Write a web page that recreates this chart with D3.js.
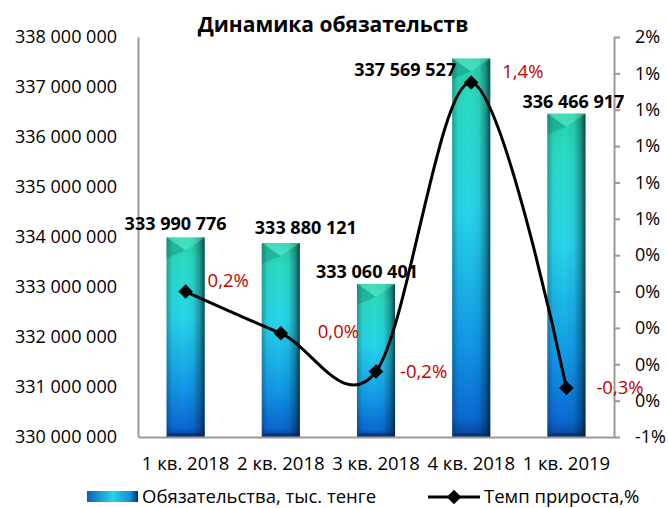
<!DOCTYPE html>
<html>
<head>
<meta charset="utf-8">
<script src="https://cdn.jsdelivr.net/npm/d3@7"></script>
<style>
  html, body { margin: 0; padding: 0; background: #fff; }
  svg { display: block; font-family: "Open Sans", sans-serif; }
</style>
</head>
<body>
<div id="chart"></div>
<script>
const categories = ["1 кв. 2018", "2 кв. 2018", "3 кв. 2018", "4 кв. 2018", "1 кв. 2019"];
const liabilities = [333990776, 333880121, 333060401, 337569527, 336466917];
const growth = [0.2, -0.03, -0.24, 1.35, -0.33];
const leftTicks = [330000000, 331000000, 332000000, 333000000, 334000000, 335000000, 336000000, 337000000, 338000000];
const rightTicks = [-0.6, -0.4, -0.2, 0, 0.2, 0.4, 0.6, 0.8, 1.0, 1.2, 1.4, 1.6];

// label nudges (hand-placed in the original)
const barLabelShift = [[-10, -7], [25, -9], [-9, -6], [-66, 17], [7, -6]];
const pctLabelShift = [[22, -5], [37, 5], [24, 6], [31, -4], [30, 6]];

const W = 668, H = 508;
const m = { left: 138, right: 614, top: 37, bottom: 437 };

const ru = d3.formatLocale({ decimal: ",", thousands: " ", grouping: [3], currency: ["", ""], minus: "-" });
const fmtNum = ru.format(",d");
const fmtPct = v => ru.format(".1f")(v) + "%";
const fmtTick = v => ru.format(".0f")(v) + "%";

const svg = d3.select("#chart").append("svg").attr("width", W).attr("height", H);
const defs = svg.append("defs");

const g1 = defs.append("linearGradient").attr("id", "barGrad")
  .attr("x1", 0).attr("y1", 0).attr("x2", 0).attr("y2", 1);
[[0, "#26cfa8"], [0.12, "#2adcc4"], [0.4, "#27d6ea"], [0.75, "#1299e8"], [0.95, "#0a6ad4"], [1, "#08449a"]]
  .forEach(([o, c]) => g1.append("stop").attr("offset", o).attr("stop-color", c));

const g2 = defs.append("linearGradient").attr("id", "shadeGrad")
  .attr("x1", 0).attr("y1", 0).attr("x2", 1).attr("y2", 0);
[[0, 0.3], [0.15, 0.04], [0.45, 0], [0.7, 0.06], [0.88, 0.35], [1, 0.72]]
  .forEach(([o, a]) => g2.append("stop").attr("offset", o).attr("stop-color", "#001018").attr("stop-opacity", a));

const g3 = defs.append("linearGradient").attr("id", "legGrad")
  .attr("x1", 0).attr("y1", 0).attr("x2", 1).attr("y2", 0);
[[0, "#0b5fb8"], [0.5, "#26d3e6"], [0.85, "#1190d8"], [1, "#062e66"]]
  .forEach(([o, c]) => g3.append("stop").attr("offset", o).attr("stop-color", c));

const x = d3.scaleBand().domain(categories).range([m.left, m.right]).paddingInner(0.6).paddingOuter(0.3);
const y = d3.scaleLinear().domain([330000000, 338000000]).range([m.bottom, m.top]);
const y2 = d3.scaleLinear().domain([-0.6, 1.6]).range([m.bottom, m.top]);

// title
svg.append("text")
  .attr("x", 333).attr("y", 32)
  .attr("text-anchor", "middle")
  .attr("font-size", "21px").attr("font-weight", "bold")
  .text("Динамика обязательств");

// left axis
const axL = svg.append("g")
  .attr("transform", `translate(${m.left},0)`)
  .call(d3.axisLeft(y).tickValues(leftTicks).tickFormat(fmtNum).tickSize(0).tickPadding(21));
axL.select(".domain").attr("stroke", "#999").attr("stroke-width", 2);
axL.selectAll("text").attr("font-size", "18px").attr("fill", "#000").attr("font-family", "Open Sans");

// right axis
const axR = svg.append("g")
  .attr("transform", `translate(${m.right},0)`)
  .call(d3.axisRight(y2).tickValues(rightTicks).tickFormat(fmtTick).tickSize(6).tickSizeOuter(0).tickPadding(15));
axR.select(".domain").attr("stroke", "#999").attr("stroke-width", 2);
axR.selectAll(".tick line").attr("stroke", "#999").attr("stroke-width", 2);
axR.selectAll("text").attr("font-size", "18px").attr("fill", "#000").attr("font-family", "Open Sans");

// bars
const bars = svg.append("g");
liabilities.forEach((v, i) => {
  const bx = x(categories[i]), bw = x.bandwidth(), by = y(v), bh = m.bottom - y(v);
  const b = 13;
  bars.append("rect").attr("x", bx).attr("y", by).attr("width", bw).attr("height", bh).attr("fill", "url(#barGrad)");
  bars.append("rect").attr("x", bx).attr("y", by).attr("width", bw).attr("height", bh).attr("fill", "url(#shadeGrad)");
  bars.append("path")
    .attr("d", `M${bx},${by}L${bx + bw},${by}L${bx + bw / 2},${by + b}Z`)
    .attr("fill", "#7ff5e0").attr("fill-opacity", 0.35);
  bars.append("path")
    .attr("d", `M${bx},${by}L${bx + bw / 2},${by + b}L${bx},${by + b * 1.6}Z`)
    .attr("fill", "#0a6060").attr("fill-opacity", 0.25);
  bars.append("path")
    .attr("d", `M${bx},${m.bottom}L${bx + bw},${m.bottom}L${bx + bw - 4},${m.bottom - 4}L${bx + 4},${m.bottom - 4}Z`)
    .attr("fill", "#062a5c").attr("fill-opacity", 0.6);
});

// bottom axis
const axB = svg.append("g")
  .attr("transform", `translate(0,${m.bottom})`)
  .call(d3.axisBottom(x).tickSize(0).tickSizeOuter(0).tickPadding(20));
axB.select(".domain").attr("stroke", "#999").attr("stroke-width", 2);
axB.selectAll("text").attr("font-size", "18.5px").attr("fill", "#000").attr("font-family", "Open Sans");

// bar value labels
svg.append("g").selectAll("text").data(liabilities).join("text")
  .attr("x", (d, i) => x(categories[i]) + x.bandwidth() / 2 + barLabelShift[i][0])
  .attr("y", (d, i) => y(d) + barLabelShift[i][1])
  .attr("text-anchor", "middle")
  .attr("font-size", "18px").attr("font-weight", "bold")
  .text(d => fmtNum(d));

// growth line
const pts = growth.map((g, i) => [x(categories[i]) + x.bandwidth() / 2, y2(g)]);
svg.append("path")
  .datum(pts)
  .attr("fill", "none").attr("stroke", "#000").attr("stroke-width", 3)
  .attr("d", d3.line().curve(d3.curveCatmullRom.alpha(0))(pts));

const diamond = d3.symbol(d3.symbolSquare, 105);
svg.append("g").selectAll("path").data(pts).join("path")
  .attr("d", diamond)
  .attr("transform", d => `translate(${d[0]},${d[1]}) rotate(45)`)
  .attr("fill", "#000");

svg.append("g").selectAll("text").data(growth).join("text")
  .attr("x", (d, i) => pts[i][0] + pctLabelShift[i][0])
  .attr("y", (d, i) => pts[i][1] + pctLabelShift[i][1])
  .attr("font-size", "18.5px").attr("fill", "#c00000")
  .text(d => fmtPct(d));

// legend
const leg = svg.append("g");
leg.append("rect").attr("x", 87).attr("y", 491).attr("width", 51).attr("height", 11).attr("fill", "url(#legGrad)");
leg.append("text").attr("x", 142).attr("y", 503).attr("font-size", "18.5px").text("Обязательства, тыс. тенге");
leg.append("line").attr("x1", 428).attr("x2", 480).attr("y1", 497).attr("y2", 497)
  .attr("stroke", "#000").attr("stroke-width", 3);
leg.append("path").attr("d", diamond).attr("transform", "translate(454,497) rotate(45)");
leg.append("text").attr("x", 484).attr("y", 503).attr("font-size", "18.5px").text("Темп прироста,%");
</script>
</body>
</html>
